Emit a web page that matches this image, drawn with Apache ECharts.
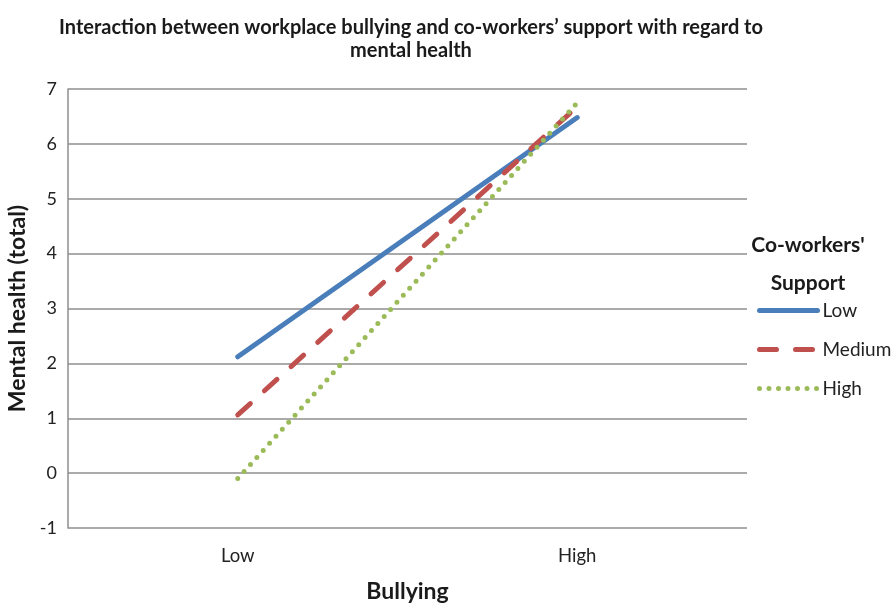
<!DOCTYPE html>
<html>
<head>
<meta charset="utf-8">
<script src="https://cdn.jsdelivr.net/npm/echarts@6/dist/echarts.min.js"></script>
<style>
  html, body { margin: 0; padding: 0; background: #fff; }
  #main { width: 893px; height: 603px; }
</style>
</head>
<body>
<div id="main"></div>
<script>
// data
var categories = ['Low', 'High'];
var lowSupport = [2.12, 6.48];
var mediumSupport = [1.06, 6.68];
var highSupport = [-0.1, 6.75];

var font = 'Lato, "Open Sans", sans-serif';

var chart = echarts.init(document.getElementById('main'));
var option = {
  backgroundColor: '#fff',
  animation: false,
  title: [
    {
      text: 'Interaction between workplace bullying and co-workers\u2019 support with regard to\nmental health',
      left: 406,
      textAlign: 'center',
      top: 11,
      textStyle: { fontFamily: font, fontSize: 20, fontWeight: 'bold', color: '#1a1a1a', lineHeight: 23 }
    },
    {
      // 图例标题
      text: "Co-workers'\nSupport",
      left: 803,
      textAlign: 'center',
      top: 221,
      textStyle: { fontFamily: font, fontSize: 21, fontWeight: 'bold', color: '#1a1a1a', lineHeight: 38 }
    }
  ],
  legend: {
    orient: 'vertical',
    left: 752,
    top: 296,
    itemWidth: 58,
    itemHeight: 16,
    itemGap: 20,
    itemStyle: { opacity: 0 },
    lineStyle: { width: 5, cap: 'round' },
    textStyle: { fontFamily: font, fontSize: 19, color: '#222' },
    data: ['Low', 'Medium', 'High']
  },
  grid: { left: 68, right: 146, top: 89, bottom: 75, outerBoundsMode: 'none', containLabel: false },
  xAxis: {
    type: 'category',
    data: categories,
    boundaryGap: true,
    name: 'Bullying',
    nameLocation: 'middle',
    nameGap: 52,
    nameTextStyle: { fontFamily: font, fontSize: 23, fontWeight: 'bold', color: '#1a1a1a' },
    axisLine: { show: false },
    axisTick: { show: false },
    axisLabel: { fontFamily: font, fontSize: 18.5, color: '#222', margin: 19 }
  },
  yAxis: {
    type: 'value',
    min: -1,
    max: 7,
    interval: 1,
    name: 'Mental health (total)',
    nameLocation: 'middle',
    nameGap: 38,
    nameTextStyle: { fontFamily: font, fontSize: 23, fontWeight: 'bold', color: '#1a1a1a' },
    axisLine: { show: true, lineStyle: { color: '#8e8e8e', width: 1.5 } },
    axisTick: { show: false },
    axisLabel: { fontFamily: font, fontSize: 18, color: '#222', margin: 11 },
    splitLine: { lineStyle: { color: '#8e8e8e', width: 1.5 } }
  },
  series: [
    {
      name: 'Low',
      type: 'line',
      data: lowSupport,
      symbol: 'none',
      z: 3,
      itemStyle: { color: '#4a7ebb' },
      lineStyle: { color: '#4a7ebb', width: 5, cap: 'round' }
    },
    {
      name: 'Medium',
      type: 'line',
      data: mediumSupport,
      symbol: 'none',
      z: 4,
      itemStyle: { color: '#c0504d' },
      lineStyle: { color: '#c0504d', width: 5, type: [17, 19], cap: 'round' }
    },
    {
      name: 'High',
      type: 'line',
      data: highSupport,
      symbol: 'none',
      z: 5,
      itemStyle: { color: '#9bbb59' },
      lineStyle: { color: '#9bbb59', width: 5, type: [0, 9.5], cap: 'round' }
    }
  ]
};
chart.setOption(option);
</script>
</body>
</html>
